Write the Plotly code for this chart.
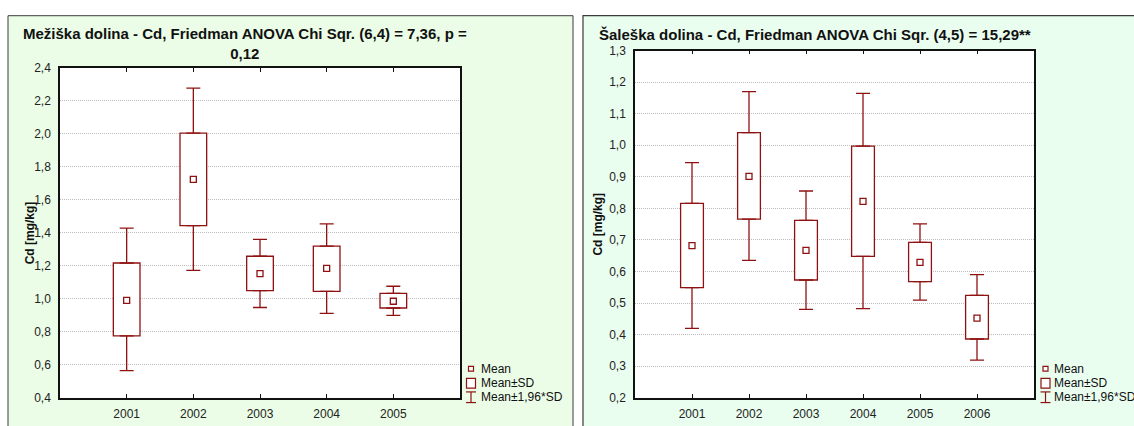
import plotly.graph_objects as go

W, H = 1134, 426
RED = "#8e1212"
FONT = "Liberation Sans, Arial, sans-serif"

# ---------------- data ----------------
# Left panel: Mežiška dolina
years_m = [2001, 2002, 2003, 2004, 2005]
mean_m = [0.990, 1.724, 1.153, 1.184, 0.985]
sd_lo_m = [0.775, 1.444, 1.049, 1.045, 0.944]
sd_hi_m = [1.217, 2.005, 1.258, 1.319, 1.033]
ci_lo_m = [0.564, 1.172, 0.947, 0.912, 0.900]
ci_hi_m = [1.428, 2.277, 1.360, 1.454, 1.076]

# Right panel: Šaleška dolina
years_s = [2001, 2002, 2003, 2004, 2005, 2006]
mean_s = [0.682, 0.901, 0.667, 0.822, 0.629, 0.452]
sd_lo_s = [0.549, 0.766, 0.573, 0.648, 0.568, 0.386]
sd_hi_s = [0.816, 1.040, 0.762, 0.997, 0.692, 0.524]
ci_lo_s = [0.420, 0.635, 0.480, 0.482, 0.509, 0.319]
ci_hi_s = [0.945, 1.170, 0.855, 1.164, 0.751, 0.590]

title_m = "Mežiška dolina - Cd, Friedman ANOVA Chi Sqr. (6,4) = 7,36, p =<br>0,12"
title_s = "Šaleška dolina - Cd, Friedman ANOVA Chi Sqr. (4,5) = 15,29**"
ytitle = "Cd [mg/kg]"
legend_labels = ["Mean", "Mean±SD", "Mean±1,96*SD"]


def px(x):
    return x / W


def py(y):
    return 1 - y / H


fig = go.Figure()


def add_panel(xa, ya, years, mean, sd_lo, sd_hi, ci_lo, ci_hi):
    # Mean ± SD boxes
    fig.add_trace(go.Bar(
        x=years, base=sd_lo, y=[h - l for h, l in zip(sd_hi, sd_lo)],
        width=0.4, marker=dict(color="white", line=dict(color=RED, width=1.3)),
        showlegend=False, hoverinfo="skip", xaxis=xa, yaxis=ya))
    # Mean ± 1.96*SD whiskers (upper part)
    fig.add_trace(go.Scatter(
        x=years, y=sd_hi, mode="markers",
        marker=dict(size=1, color="rgba(0,0,0,0)"),
        error_y=dict(type="data", symmetric=False,
                     array=[c - h for c, h in zip(ci_hi, sd_hi)],
                     arrayminus=[0] * len(years),
                     color=RED, thickness=1.3, width=7),
        showlegend=False, hoverinfo="skip", xaxis=xa, yaxis=ya))
    # lower part
    fig.add_trace(go.Scatter(
        x=years, y=sd_lo, mode="markers",
        marker=dict(size=1, color="rgba(0,0,0,0)"),
        error_y=dict(type="data", symmetric=False,
                     array=[0] * len(years),
                     arrayminus=[l - c for l, c in zip(sd_lo, ci_lo)],
                     color=RED, thickness=1.3, width=7),
        showlegend=False, hoverinfo="skip", xaxis=xa, yaxis=ya))
    # Means
    fig.add_trace(go.Scatter(
        x=years, y=mean, mode="markers",
        marker=dict(symbol="square", size=6, color="white",
                    line=dict(color=RED, width=1.3)),
        showlegend=False, hoverinfo="skip", xaxis=xa, yaxis=ya))


add_panel("x", "y", years_m, mean_m, sd_lo_m, sd_hi_m, ci_lo_m, ci_hi_m)
add_panel("x2", "y2", years_s, mean_s, sd_lo_s, sd_hi_s, ci_lo_s, ci_hi_s)

# plot-area pixel boxes
L = dict(x0=60, x1=460, y0=63, y1=404)
R = dict(x0=635, x1=1034, y0=45, y1=404)

xcommon = dict(showline=True, linecolor="#111", linewidth=1.5, mirror="ticks",
               ticks="inside", ticklen=4, tickcolor="#111", showgrid=False,
               zeroline=False, ticklabelstandoff=4,
               tickfont=dict(size=12, color="#222", family=FONT))
ycommon = dict(showline=True, linecolor="#111", linewidth=1.5, mirror=True,
               ticks="", showgrid=True, gridcolor="#bdbdbd", griddash="1px,1px",
               gridwidth=1, zeroline=False, tickformat=".1f", ticklabelstandoff=5,
               tickfont=dict(size=12, color="#222", family=FONT))

fig.update_layout(
    width=W, height=H, margin=dict(l=0, r=0, t=0, b=0),
    paper_bgcolor="white", plot_bgcolor="rgba(0,0,0,0)",
    separators=", ", font=dict(family=FONT, size=12, color="#111"),
    barmode="overlay",
    xaxis=dict(domain=[px(L["x0"]), px(L["x1"])], range=[2000, 2006],
               tickvals=years_m, ticktext=[str(v) for v in years_m], anchor="y", **xcommon),
    yaxis=dict(domain=[py(L["y1"]), py(L["y0"])], range=[0.4, 2.4], dtick=0.2,
               tick0=0.4, anchor="x", **ycommon),
    xaxis2=dict(domain=[px(R["x0"]), px(R["x1"])], range=[2000, 2007],
                tickvals=years_s, ticktext=[str(v) for v in years_s], anchor="y2", **xcommon),
    yaxis2=dict(domain=[py(R["y1"]), py(R["y0"])], range=[0.2, 1.3], dtick=0.1,
                tick0=0.2, anchor="x2", **ycommon),
)

shapes = []
# panel backgrounds
shapes.append(dict(type="rect", xref="paper", yref="paper", layer="below",
                   x0=px(8), x1=px(573), y0=py(440), y1=py(9),
                   fillcolor="#ebfde6", line=dict(color="#3a3a3a", width=1)))
shapes.append(dict(type="rect", xref="paper", yref="paper", layer="below",
                   x0=px(583), x1=px(1150), y0=py(440), y1=py(9),
                   fillcolor="#eafef0", line=dict(color="#3a3a3a", width=1.2)))
# white plot areas
for B in (L, R):
    shapes.append(dict(type="rect", xref="paper", yref="paper", layer="below",
                       x0=px(B["x0"]), x1=px(B["x1"]), y0=py(B["y1"]), y1=py(B["y0"]),
                       fillcolor="white", line=dict(width=0)))

annotations = []
annotations.append(dict(text="<b>" + title_m + "</b>", xref="paper", yref="paper",
                        x=px(21), y=py(38), xanchor="left", yanchor="middle", align="center",
                        showarrow=False, font=dict(size=15, color="#111", family=FONT)))
annotations.append(dict(text="<b>" + title_s + "</b>", xref="paper", yref="paper",
                        x=px(597), y=py(28), xanchor="left", yanchor="middle",
                        showarrow=False, font=dict(size=15, color="#111", family=FONT)))
annotations.append(dict(text="<b>" + ytitle + "</b>", xref="paper", yref="paper",
                        x=px(30), y=py(234), textangle=-90, xanchor="center", yanchor="middle",
                        showarrow=False, font=dict(size=12, color="#111", family=FONT)))
annotations.append(dict(text="<b>" + ytitle + "</b>", xref="paper", yref="paper",
                        x=px(598), y=py(225), textangle=-90, xanchor="center", yanchor="middle",
                        showarrow=False, font=dict(size=12, color="#111", family=FONT)))


def add_legend(cx, tx):
    rows = [374, 389, 403]
    # mean icon
    shapes.append(dict(type="rect", xref="paper", yref="paper",
                       x0=px(cx - 2.5), x1=px(cx + 2.5), y0=py(rows[0] + 2.5), y1=py(rows[0] - 2.5),
                       fillcolor="white", line=dict(color=RED, width=1.2)))
    # SD icon
    shapes.append(dict(type="rect", xref="paper", yref="paper",
                       x0=px(cx - 4.5), x1=px(cx + 4.5), y0=py(rows[1] + 5), y1=py(rows[1] - 5),
                       fillcolor="white", line=dict(color=RED, width=1.2)))
    # whisker icon
    for (a, b, c, d) in [(cx, rows[2] - 5, cx, rows[2] + 6),
                         (cx - 5, rows[2] - 5, cx + 5, rows[2] - 5),
                         (cx - 5, rows[2] + 6, cx + 5, rows[2] + 6)]:
        shapes.append(dict(type="line", xref="paper", yref="paper",
                           x0=px(a), y0=py(b), x1=px(c), y1=py(d),
                           line=dict(color=RED, width=1.2)))
    for lab, yy in zip(legend_labels, rows):
        annotations.append(dict(text=lab, xref="paper", yref="paper", x=px(tx), y=py(yy),
                                xanchor="left", yanchor="middle", showarrow=False,
                                font=dict(size=12, color="#111", family=FONT)))


add_legend(471, 479)
add_legend(1045.5, 1052)

fig.update_layout(shapes=shapes, annotations=annotations)
fig.write_html("out.html")
